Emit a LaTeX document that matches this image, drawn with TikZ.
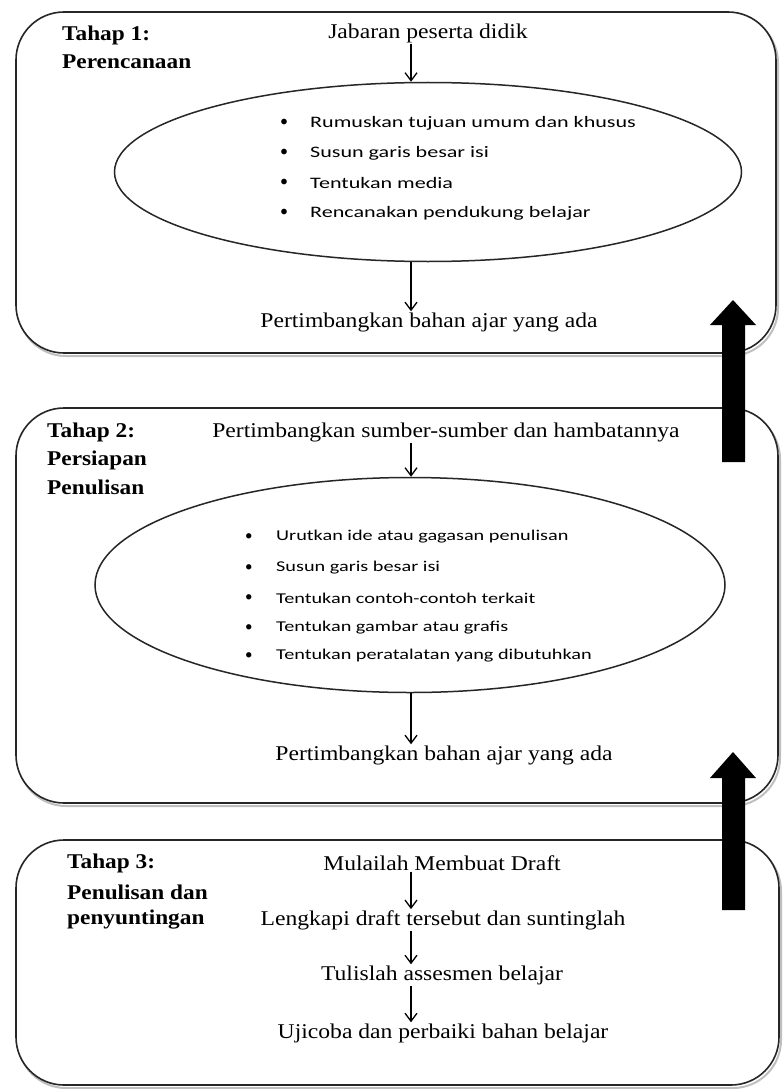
\documentclass[tikz,border=0pt]{standalone}
\usepackage{graphicx}
\usepackage{fontspec}
\setmainfont{Liberation Serif}
\newfontfamily\calfont{Carlito}
\usetikzlibrary{arrows.meta,shapes.geometric}
\newcommand\mtxt[1]{\scalebox{1.125}[1]{#1}}
\newcommand\htxt[1]{\scalebox{1.11}[1]{#1}}
\newcommand\btxta[1]{\scalebox{1.38}[1]{#1}}
\newcommand\btxtb[1]{\scalebox{1.35}[1]{#1}}
\begin{document}
\begin{tikzpicture}[x=1pt,y=-1pt,
  box/.style={draw=black!85, line width=1.6pt, rounded corners=48pt},
  shadowbox/.style={draw=black!25, line width=2pt, rounded corners=48pt},
  ell/.style={draw=black!85, line width=1.5pt, ellipse, inner sep=0pt, fill=white},
  main/.style={font=\fontsize{21}{24}\selectfont, inner sep=1pt},
  head/.style={font=\bfseries\fontsize{21}{26}\selectfont, anchor=west, inner sep=0pt},
  bula/.style={font=\calfont\fontsize{16}{20}\selectfont, anchor=west, inner sep=0pt},
  bulb/.style={font=\calfont\fontsize{15}{20}\selectfont, anchor=west, inner sep=0pt},
  arr/.style={-{Straight Barb[length=8pt,width=12pt]}, line width=1.3pt},
  blk/.style={fill=black}]
\useasboundingbox (0,0) rectangle (783,1089);
\coordinate (ax) at (411,0);
% ---------- Box 1
\draw[shadowbox] (18,15) rectangle (778,356);
\draw[box, fill=white] (16,12) rectangle (776,353);
\node[head] (h1a) at (62,35) {\htxt{Tahap 1:}};
\node[head] (h1b) at (62,62) {\htxt{Perencanaan}};
\node[main] (jab) at (428,33) {\mtxt{Jabaran peserta didik}};
\node[ell, minimum width=627pt, minimum height=179pt] (e1) at (428,172) {};
\foreach \t [count=\i] in {Rumuskan tujuan umum dan khusus,Susun garis besar isi,Tentukan media,Rencanakan pendukung belajar}{
  \node[bula] (b1d\i) at (280,{93+30*\i}) {•};
  \node[bula] (b1t\i) at (310,{93+30*\i}) {\btxta{\t}};
}
\node[main] (pb1) at (429,322) {\mtxt{Pertimbangkan bahan ajar yang ada}};
\draw[arr] (jab.south -| ax) -- (e1.north -| ax);
\draw[arr] (e1.south -| ax) -- (pb1.north -| ax);
% ---------- Box 2
\draw[shadowbox] (18,411) rectangle (780,806);
\draw[box, fill=white] (16,408) rectangle (778,803);
\node[head] (h2a) at (47,432) {\htxt{Tahap 2:}};
\node[head] (h2b) at (47,460) {\htxt{Persiapan}};
\node[head] (h2c) at (47,487) {\htxt{Penulisan}};
\node[main] (ps2) at (446,432) {\mtxt{Pertimbangkan sumber-sumber dan hambatannya}};
\node[ell, minimum width=630pt, minimum height=215pt] (e2) at (410,585) {};
\foreach \t/\yy [count=\i] in {Urutkan ide atau gagasan penulisan/537,Susun garis besar isi/568,Tentukan contoh-contoh terkait/598,Tentukan gambar atau grafis/628,Tentukan peratalatan yang dibutuhkan/656}{
  \node[bulb] (b2d\i) at (245,\yy) {•};
  \node[bulb] (b2t\i) at (276,\yy) {\btxtb{\t}};
}
\node[main] (pb2) at (444,755) {\mtxt{Pertimbangkan bahan ajar yang ada}};
\draw[arr] (ps2.south -| ax) -- (e2.north -| ax);
\draw[arr] (e2.south -| ax) -- (pb2.north -| ax);
% black arrow 1
\fill[blk] (722,462) -- (722,325) -- (710,325) -- (733,300) -- (756,325) -- (745,325) -- (745,462) -- cycle;
% ---------- Box 3
\draw[shadowbox] (18,843) rectangle (781,1088);
\draw[box, fill=white] (16,840) rectangle (779,1085);
\node[head] (h3a) at (67,863) {\htxt{Tahap 3:}};
\node[head] (h3b) at (67,892) {\htxt{Penulisan dan}};
\node[head] (h3c) at (67,920) {\htxt{penyuntingan}};
\node[main] (m1) at (442,863) {\mtxt{Mulailah Membuat Draft}};
\node[main] (m2) at (443,920) {\mtxt{Lengkapi draft tersebut dan suntinglah}};
\node[main] (m3) at (442,975) {\mtxt{Tulislah assesmen belajar}};
\node[main] (m4) at (443,1033) {\mtxt{Ujicoba dan perbaiki bahan belajar}};
\draw[arr] (m1.south -| ax) -- (m2.north -| ax);
\draw[arr] (m2.south -| ax) -- (m3.north -| ax);
\draw[arr] (m3.south -| ax) -- (m4.north -| ax);
% black arrow 2
\fill[blk] (722,910) -- (722,778) -- (710,778) -- (733,752) -- (756,778) -- (745,778) -- (745,910) -- cycle;
\end{tikzpicture}
\end{document}
